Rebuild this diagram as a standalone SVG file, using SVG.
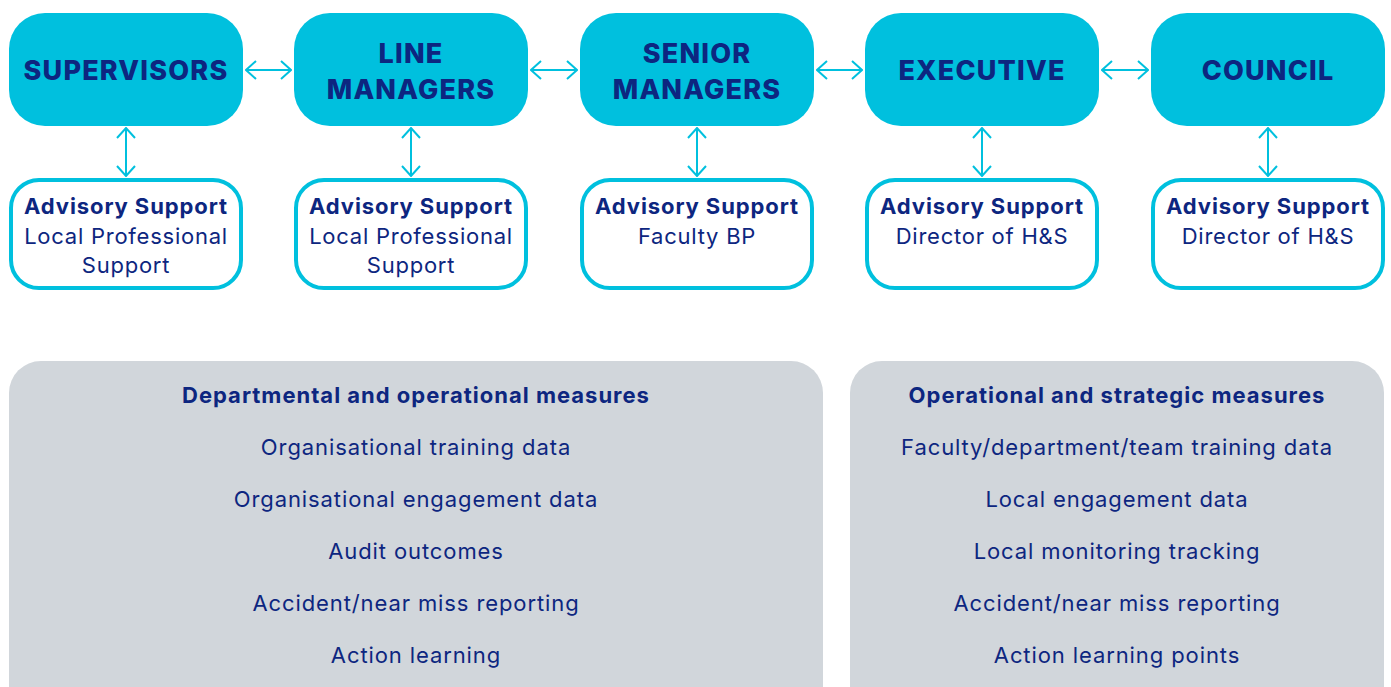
<svg xmlns="http://www.w3.org/2000/svg" width="1391" height="687" viewBox="0 0 1391 687">
  <defs>
    <style>
      .role rect { fill: #00c0de; }
      .role text { font-family: Inter, "Liberation Sans", sans-serif; font-weight: 800; font-size: 27px; letter-spacing: 1.2px; fill: #0d2680; text-anchor: middle; }
      .adv rect { fill: #ffffff; stroke: #00c0de; stroke-width: 4; }
      .adv text { font-family: Inter, "Liberation Sans", sans-serif; font-size: 22px; letter-spacing: 0.75px; fill: #0d2680; text-anchor: middle; }
      .adv .h { font-weight: 700; letter-spacing: 0.9px; }
      .panel rect { fill: #d1d6db; }
      .panel text { font-family: Inter, "Liberation Sans", sans-serif; font-size: 22px; letter-spacing: 0.9px; fill: #0d2680; text-anchor: middle; }
      .panel .h { font-weight: 700; letter-spacing: 1px; }
      .link { stroke: #00c0de; stroke-width: 2; fill: none; marker-start: url(#tip); marker-end: url(#tip); }
    </style>
    <marker id="tip" viewBox="0 0 12 20" refX="11" refY="10" markerWidth="12" markerHeight="20" markerUnits="userSpaceOnUse" orient="auto-start-reverse">
      <path d="M1,1 L11,10 L1,19" fill="none" stroke="#00c0de" stroke-width="2"/>
    </marker>
  </defs>

  <!-- management levels -->
  <g id="supervisors" class="role">
    <rect x="9" y="13" width="234" height="113" rx="36"/>
    <text x="126" y="80">SUPERVISORS</text>
  </g>
  <g id="line-managers" class="role">
    <rect x="294" y="13" width="234" height="113" rx="36"/>
    <text x="411" y="63">LINE</text>
    <text x="411" y="99">MANAGERS</text>
  </g>
  <g id="senior-managers" class="role">
    <rect x="580" y="13" width="234" height="113" rx="36"/>
    <text x="697" y="63">SENIOR</text>
    <text x="697" y="99">MANAGERS</text>
  </g>
  <g id="executive" class="role">
    <rect x="865" y="13" width="234" height="113" rx="36"/>
    <text x="982" y="80">EXECUTIVE</text>
  </g>
  <g id="council" class="role">
    <rect x="1151" y="13" width="234" height="113" rx="36"/>
    <text x="1268" y="80">COUNCIL</text>
  </g>

  <!-- advisory support -->
  <g id="adv-supervisors" class="adv">
    <rect x="11" y="180" width="230" height="108" rx="28"/>
    <text class="h" x="126" y="214">Advisory Support</text>
    <text x="126" y="244">Local Professional</text>
    <text x="126" y="273">Support</text>
  </g>
  <g id="adv-line-managers" class="adv">
    <rect x="296" y="180" width="230" height="108" rx="28"/>
    <text class="h" x="411" y="214">Advisory Support</text>
    <text x="411" y="244">Local Professional</text>
    <text x="411" y="273">Support</text>
  </g>
  <g id="adv-senior-managers" class="adv">
    <rect x="582" y="180" width="230" height="108" rx="28"/>
    <text class="h" x="697" y="214">Advisory Support</text>
    <text x="697" y="244">Faculty BP</text>
  </g>
  <g id="adv-executive" class="adv">
    <rect x="867" y="180" width="230" height="108" rx="28"/>
    <text class="h" x="982" y="214">Advisory Support</text>
    <text x="982" y="244">Director of H&amp;S</text>
  </g>
  <g id="adv-council" class="adv">
    <rect x="1153" y="180" width="230" height="108" rx="28"/>
    <text class="h" x="1268" y="214">Advisory Support</text>
    <text x="1268" y="244">Director of H&amp;S</text>
  </g>

  <!-- two-way links -->
  <g id="connectors">
    <line class="link" x1="246" y1="70" x2="291" y2="70"/>
    <line class="link" x1="531" y1="70" x2="577" y2="70"/>
    <line class="link" x1="817" y1="70" x2="862" y2="70"/>
    <line class="link" x1="1102" y1="70" x2="1148" y2="70"/>
    <line class="link" x1="126" y1="128" x2="126" y2="176"/>
    <line class="link" x1="411" y1="128" x2="411" y2="176"/>
    <line class="link" x1="697" y1="128" x2="697" y2="176"/>
    <line class="link" x1="982" y1="128" x2="982" y2="176"/>
    <line class="link" x1="1268" y1="128" x2="1268" y2="176"/>
  </g>

  <!-- measures -->
  <g id="departmental-measures" class="panel">
    <rect x="9" y="361" width="814" height="360" rx="32"/>
    <text class="h" x="416" y="403">Departmental and operational measures</text>
    <text x="416" y="455">Organisational training data</text>
    <text x="416" y="507">Organisational engagement data</text>
    <text x="416" y="559">Audit outcomes</text>
    <text x="416" y="611">Accident/near miss reporting</text>
    <text x="416" y="663">Action learning</text>
  </g>
  <g id="strategic-measures" class="panel">
    <rect x="850" y="361" width="534" height="360" rx="32"/>
    <text class="h" x="1117" y="403">Operational and strategic measures</text>
    <text x="1117" y="455">Faculty/department/team training data</text>
    <text x="1117" y="507">Local engagement data</text>
    <text x="1117" y="559">Local monitoring tracking</text>
    <text x="1117" y="611">Accident/near miss reporting</text>
    <text x="1117" y="663">Action learning points</text>
  </g>
</svg>
